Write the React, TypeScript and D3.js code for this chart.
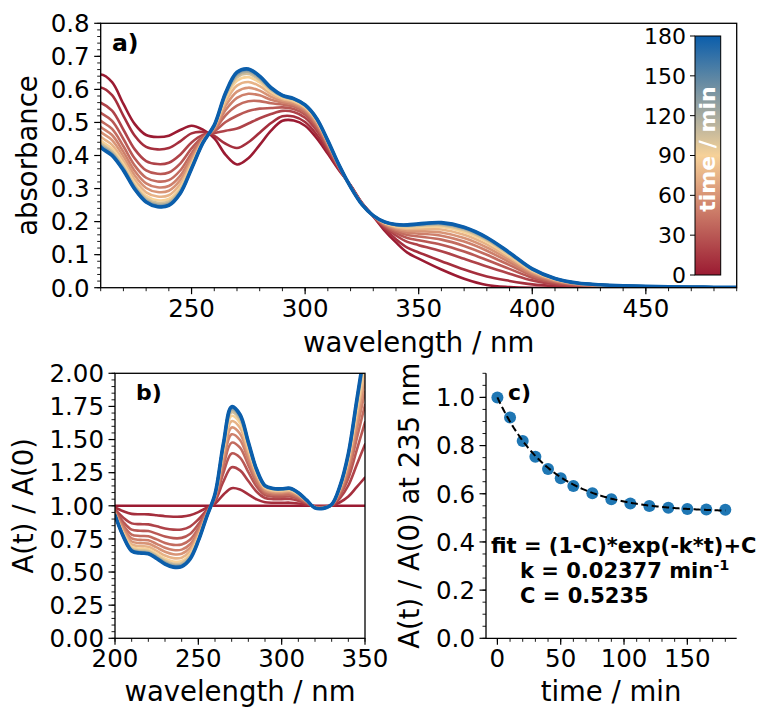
import React from "react";
import * as d3 from "d3";

// ---------- data ----------
const wavelengthNm = [200,205,210,215,220,225,230,235,240,245,250,255,260,265,270,275,280,285,290,295,300,305,310,315,320,325,330,335,340,345,350,360,370,380,390,400,410,420,430,440,450,460,470,480,490,500];
// absorbance of the first spectrum (t = 0 min)
const absorbanceStart = [0.56,0.625,0.645,0.622,0.556,0.495,0.462,0.456,0.46,0.477,0.49,0.478,0.452,0.402,0.373,0.392,0.432,0.475,0.505,0.506,0.49,0.453,0.405,0.355,0.31,0.257,0.216,0.173,0.137,0.106,0.088,0.055,0.027,0.008,0.002,0,0,0,0,0,0,0,0,0,0,0];
// absorbance of the last spectrum (t = 180 min)
const absorbanceEnd = [0.52,0.48,0.425,0.4,0.355,0.298,0.259,0.245,0.249,0.285,0.36,0.438,0.492,0.59,0.652,0.662,0.64,0.605,0.582,0.572,0.553,0.513,0.445,0.37,0.305,0.252,0.218,0.199,0.191,0.19,0.193,0.197,0.183,0.152,0.106,0.057,0.028,0.014,0.009,0.006,0.004,0.003,0.002,0.0015,0.001,0.001];
const timesMin = [0,10,20,30,40,50,60,75,90,105,120,135,150,165,180];
const ratioAt235 = [1.0,0.917,0.819,0.754,0.703,0.664,0.632,0.602,0.577,0.56,0.549,0.542,0.537,0.535,0.534];
const fitK = 0.02377;
const fitC = 0.5235;

const absTicks = [0,0.1,0.2,0.3,0.4,0.5,0.6,0.7,0.8];
const wlTicksA = [250,300,350,400,450];
const timeBarTicks = [0,30,60,90,120,150,180];
const ratioTicksB = [0,0.25,0.5,0.75,1,1.25,1.5,1.75,2];
const wlTicksB = [200,250,300,350];
const ratioTicksC = [0,0.2,0.4,0.6,0.8,1.0];
const timeTicksC = [0,50,100,150];
const cmapColors = ["#9b1b32","#f6d198","#0b5eab"];

const FONT = "DejaVu Sans, sans-serif";
const TICK_FS = 24.5;
const LABEL_FS = 27.5;

const cmap = d3.scaleLinear<string>().domain([0,0.5,1]).range(cmapColors).interpolate(d3.interpolateRgb);
const colorFor = (t: number) => cmap(t / 180);

// each spectrum = mix of start/end weighted by the progress seen at 235 nm
const rEnd = ratioAt235[ratioAt235.length - 1];
const spectra = timesMin.map((t, i) => {
  const p = (1 - ratioAt235[i]) / (1 - rEnd);
  return wavelengthNm.map((wl, j) => ({ wl, a: absorbanceStart[j] + p * (absorbanceEnd[j] - absorbanceStart[j]) }));
});
const ratios = spectra.map((s) =>
  s.filter((d) => d.wl <= 350).map((d, j) => ({ wl: d.wl, r: d.a / absorbanceStart[j] }))
);

function AxisLeft({ scale, x, ticks, minor, fmt, fs = TICK_FS }: any) {
  return (
    <g>
      {minor.map((v: number, i: number) => (
        <line key={"m" + i} x1={x} x2={x - 3.5} y1={scale(v)} y2={scale(v)} stroke="#000" strokeWidth={0.9} />
      ))}
      {ticks.map((v: number, i: number) => (
        <g key={i}>
          <line x1={x} x2={x - 6.5} y1={scale(v)} y2={scale(v)} stroke="#000" strokeWidth={1.2} />
          <text x={x - 11} y={scale(v)} dy="0.36em" textAnchor="end" fontSize={fs} fontFamily={FONT}>{fmt(v)}</text>
        </g>
      ))}
    </g>
  );
}

function AxisBottom({ scale, y, ticks, minor, fmt, fs = TICK_FS }: any) {
  return (
    <g>
      {minor.map((v: number, i: number) => (
        <line key={"m" + i} x1={scale(v)} x2={scale(v)} y1={y} y2={y + 3.5} stroke="#000" strokeWidth={0.9} />
      ))}
      {ticks.map((v: number, i: number) => (
        <g key={i}>
          <line x1={scale(v)} x2={scale(v)} y1={y} y2={y + 6.5} stroke="#000" strokeWidth={1.2} />
          <text x={scale(v)} y={y + 11} dy="0.73em" textAnchor="middle" fontSize={fs} fontFamily={FONT}>{fmt(v)}</text>
        </g>
      ))}
    </g>
  );
}

export default function App() {
  // panel a
  const xA = d3.scaleLinear().domain([210, 490]).range([100.7, 736.7]);
  const yA = d3.scaleLinear().domain([0, 0.8]).range([287.7, 23.3]);
  // colorbar
  const cb = { x: 695, y: 36, w: 25.7, h: 239 };
  const yCb = d3.scaleLinear().domain([0, 180]).range([cb.y + cb.h, cb.y]);
  // panel b
  const xB = d3.scaleLinear().domain([200, 350]).range([115, 365]);
  const yB = d3.scaleLinear().domain([0, 2]).range([638.3, 373.3]);
  // panel c
  const xC = d3.scaleLinear().domain([-9, 189]).range([486, 736.7]);
  const yC = d3.scaleLinear().domain([0, 1.1]).range([638.3, 373.3]);

  const lineA = d3.line<any>().x((d) => xA(d.wl)).y((d) => yA(d.a)).curve(d3.curveCatmullRom.alpha(0.5));
  const lineB = d3.line<any>().x((d) => xB(d.wl)).y((d) => yB(d.r)).curve(d3.curveCatmullRom.alpha(0.5));
  const fitPts = d3.range(0, 180.5, 1).map((t) => ({ t, v: (1 - fitC) * Math.exp(-fitK * t) + fitC }));
  const lineFit = d3.line<any>().x((d) => xC(d.t)).y((d) => yC(d.v));

  const f1 = d3.format(".1f");
  const f2 = d3.format(".2f");
  const fInt = d3.format("d");

  const minorA_y = d3.range(0, 0.8001, 0.02);
  const minorA_x = d3.range(210, 490.01, 10);
  const minorB_y = d3.range(0, 2.0001, 0.05);
  const minorB_x = d3.range(200, 350.01, 10);
  const minorC_y = d3.range(0, 1.1001, 0.05);
  const minorC_x = d3.range(0, 189, 10);

  const lastIdx = timesMin.length - 1;

  return (
    <svg width={761} height={709} style={{ position: "absolute", left: 0, top: 0, background: "#fff" }} fontFamily={FONT}>
      <defs>
        <clipPath id="clipA"><rect x={100.7} y={23.3} width={636} height={264.4} /></clipPath>
        <clipPath id="clipB"><rect x={115} y={373.3} width={250} height={265} /></clipPath>
        <linearGradient id="cbGrad" x1="0" y1="1" x2="0" y2="0">
          {d3.range(0, 1.0001, 0.05).map((s, i) => (
            <stop key={i} offset={s} stopColor={cmap(s)} />
          ))}
        </linearGradient>
      </defs>
      <rect x={0} y={0} width={761} height={709} fill="#fff" />

      {/* ---------- panel a ---------- */}
      <g clipPath="url(#clipA)">
        {spectra.map((s, i) => (
          <path key={i} d={lineA(s) as string} fill="none" stroke={colorFor(timesMin[i])}
            strokeWidth={i === lastIdx ? 3.6 : 2.6} strokeLinejoin="round" strokeLinecap="round" />
        ))}
      </g>
      <rect x={100.7} y={23.3} width={636} height={264.4} fill="none" stroke="#000" strokeWidth={1.3} />
      <AxisLeft scale={yA} x={100.7} ticks={absTicks} minor={minorA_y} fmt={f1} />
      <AxisBottom scale={xA} y={287.7} ticks={wlTicksA} minor={minorA_x} fmt={fInt} />
      <text x={418.7} y={352} textAnchor="middle" fontSize={LABEL_FS}>wavelength / nm</text>
      <text transform="translate(37,155.5) rotate(-90)" textAnchor="middle" fontSize={LABEL_FS}>absorbance</text>
      <text x={112} y={51} fontSize={23.5} fontWeight="bold">a)</text>

      {/* colorbar */}
      <rect x={cb.x} y={cb.y} width={cb.w} height={cb.h} fill="url(#cbGrad)" stroke="#000" strokeWidth={1} />
      {timeBarTicks.map((v, i) => (
        <g key={i}>
          <line x1={cb.x} x2={cb.x - 5} y1={yCb(v)} y2={yCb(v)} stroke="#000" strokeWidth={1} />
          <text x={cb.x - 9} y={yCb(v)} dy="0.36em" textAnchor="end" fontSize={22}>{v}</text>
        </g>
      ))}
      <text transform={`translate(${cb.x + cb.w / 2 + 7.5},149) rotate(-90)`} textAnchor="middle" fontSize={22}
        fontWeight="bold" fill="#fff">time / min</text>

      {/* ---------- panel b ---------- */}
      <g clipPath="url(#clipB)">
        {ratios.map((s, i) => (
          <path key={i} d={lineB(s) as string} fill="none" stroke={colorFor(timesMin[i])}
            strokeWidth={i === lastIdx ? 3.6 : 2.6} strokeLinejoin="round" strokeLinecap="round" />
        ))}
      </g>
      <rect x={115} y={373.3} width={250} height={265} fill="none" stroke="#000" strokeWidth={1.3} />
      <AxisLeft scale={yB} x={115} ticks={ratioTicksB} minor={minorB_y} fmt={f2} />
      <AxisBottom scale={xB} y={638.3} ticks={wlTicksB} minor={minorB_x} fmt={fInt} />
      <text x={240} y={701} textAnchor="middle" fontSize={LABEL_FS}>wavelength / nm</text>
      <text transform="translate(33,505.8) rotate(-90)" textAnchor="middle" fontSize={LABEL_FS}>A(t) / A(0)</text>
      <text x={136} y={400} fontSize={22} fontWeight="bold">b)</text>

      {/* ---------- panel c ---------- */}
      {timesMin.map((t, i) => (
        <circle key={i} cx={xC(t)} cy={yC(ratioAt235[i])} r={6} fill="#1f77b4" />
      ))}
      <path d={lineFit(fitPts) as string} fill="none" stroke="#000" strokeWidth={2} strokeDasharray="7,3.5" />
      <line x1={486} x2={486} y1={373.3} y2={638.3} stroke="#000" strokeWidth={1.3} />
      <line x1={486} x2={736.7} y1={638.3} y2={638.3} stroke="#000" strokeWidth={1.3} />
      <AxisLeft scale={yC} x={486} ticks={ratioTicksC} minor={minorC_y} fmt={f1} />
      <AxisBottom scale={xC} y={638.3} ticks={timeTicksC} minor={minorC_x} fmt={fInt} />
      <text x={611} y={701} textAnchor="middle" fontSize={LABEL_FS}>time / min</text>
      <text transform="translate(418.5,505.8) rotate(-90)" textAnchor="middle" fontSize={LABEL_FS}>A(t) / A(0) at 235 nm</text>
      <text x={508} y={400} fontSize={22} fontWeight="bold">c)</text>
      <g fontSize={21} fontWeight="bold">
        <text x={491} y={553}>fit = (1-C)*exp(-k*t)+C</text>
        <text x={520} y={578}>k = {fitK} min<tspan fontSize={14.5} dy={-8}>-1</tspan></text>
        <text x={520} y={603}>C = {fitC}</text>
      </g>
    </svg>
  );
}
